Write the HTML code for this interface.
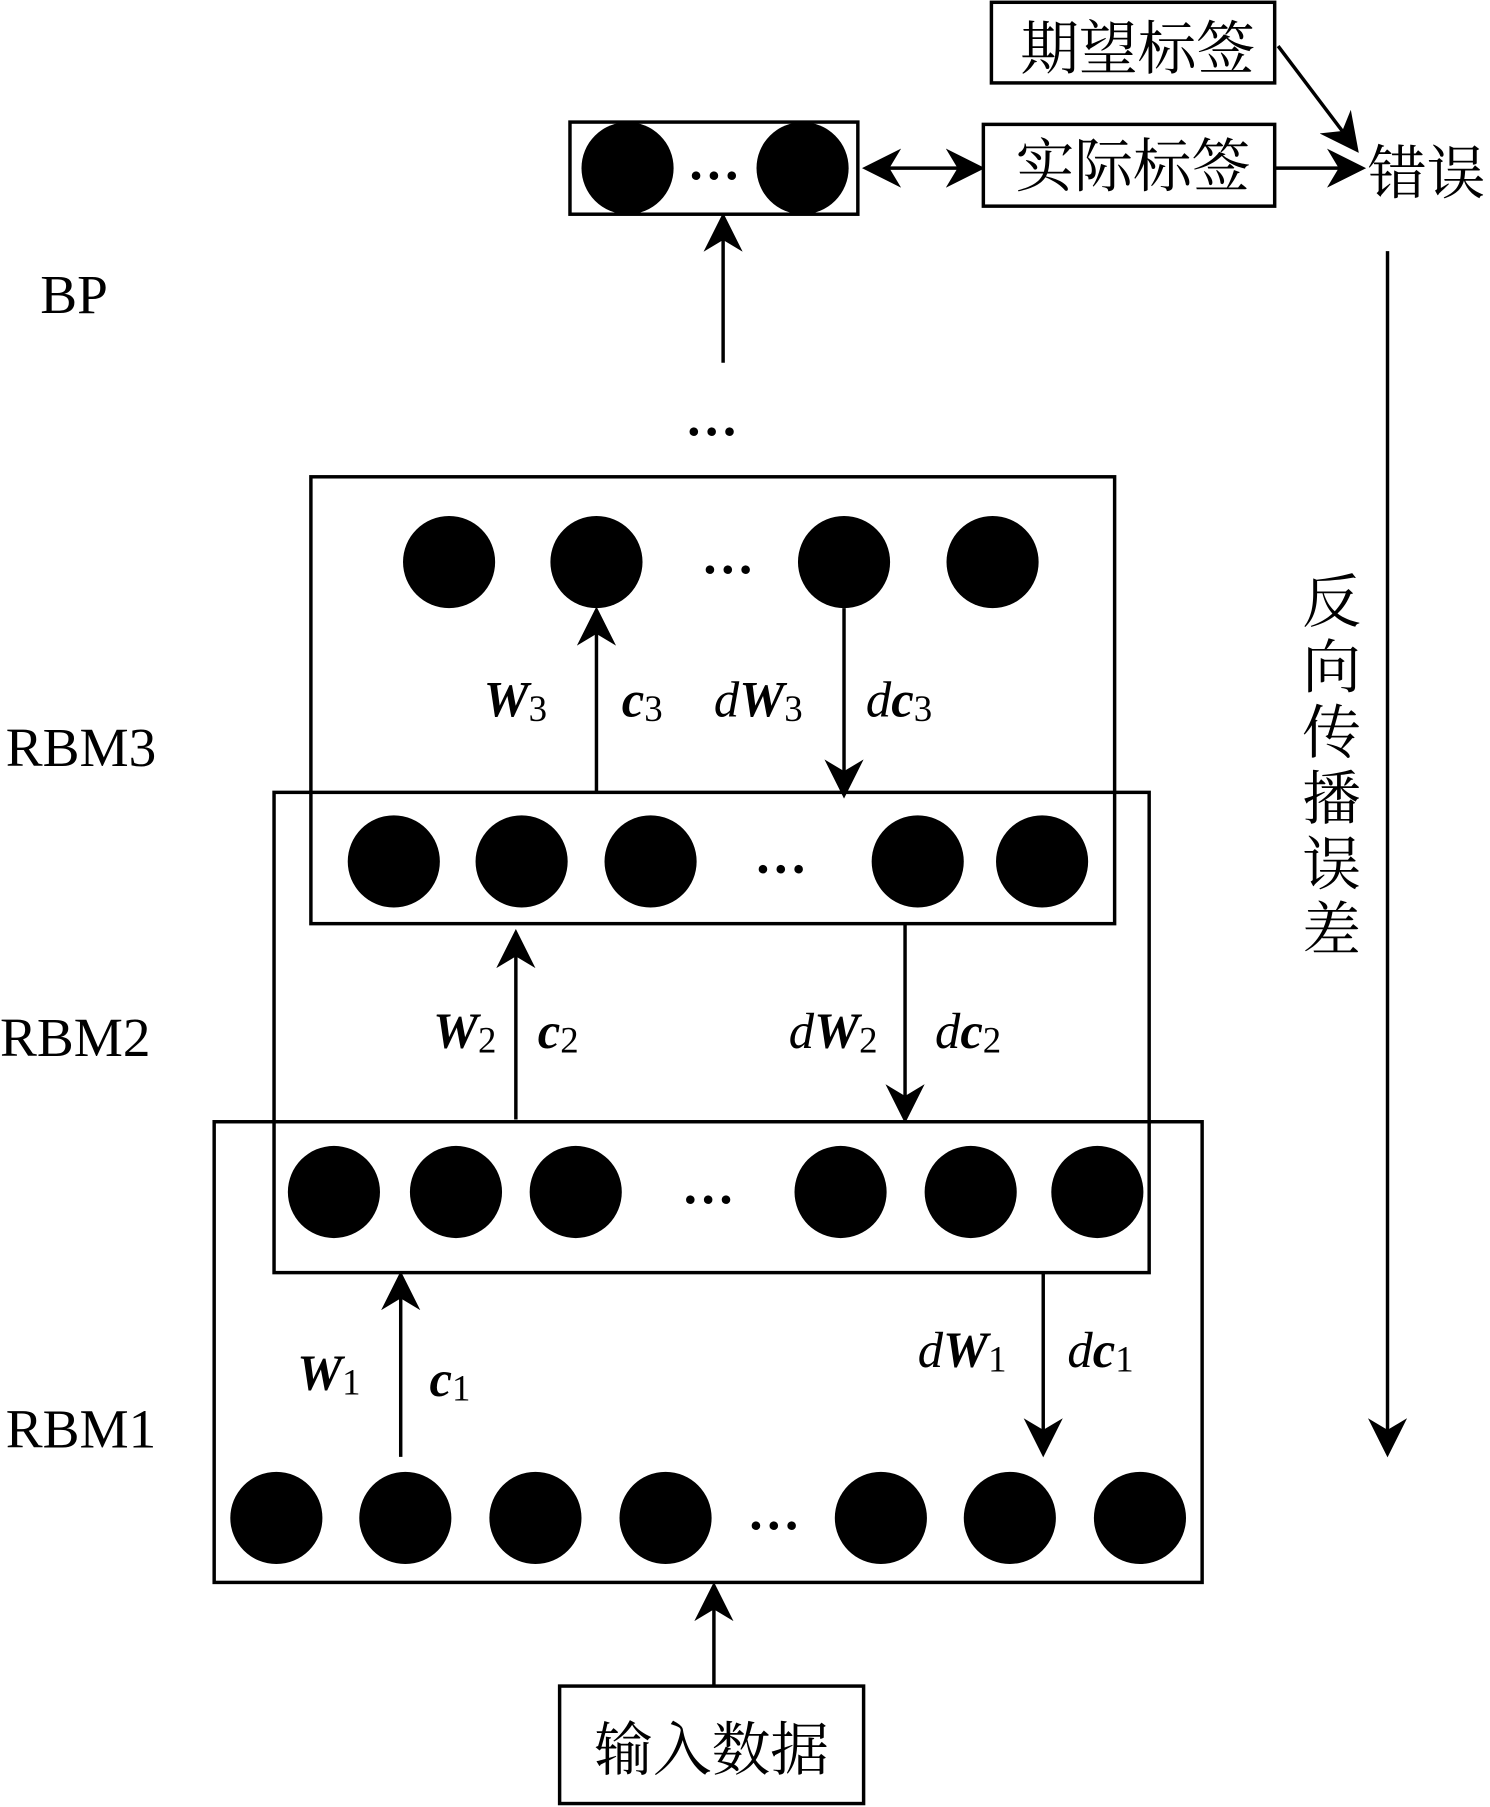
<!DOCTYPE html>
<html><head><meta charset="utf-8"><style>html,body{margin:0;padding:0;background:#fff}svg{display:block}
text{font-family:"Liberation Serif","Noto Serif CJK SC",serif}
.cn{font-family:"Liberation Serif","Noto Serif CJK SC","Noto Sans CJK SC",serif;font-size:51px}
.l{font-size:44px;font-style:italic}
.b{font-weight:bold}
.s{font-size:32px;font-style:normal;font-weight:normal}
</style></head><body>
<svg width="1490" height="1807" viewBox="0 0 1294 1569" preserveAspectRatio="none" xmlns="http://www.w3.org/2000/svg">
<defs>
<marker id="A" viewBox="0 0 10 10" markerWidth="34" markerHeight="34" refX="9" refY="5" orient="auto-start-reverse" markerUnits="userSpaceOnUse"><path d="M0,0 L10,5 L0,10 L3,5z" fill="#000"/></marker></defs>
<g fill="none" stroke="#000" stroke-width="3">
<rect x="861" y="2" width="246" height="70"/>
<rect x="854" y="108" width="253" height="71"/>
<rect x="495" y="106" width="250" height="80"/>
<rect x="270" y="414" width="698" height="388"/>
<rect x="238" y="688" width="760" height="417"/>
<rect x="186" y="974" width="858" height="400"/>
<rect x="486" y="1464" width="264" height="102"/>
</g>
<g stroke="#000" stroke-width="3" marker-end="url(#A)">
<line x1="752" y1="146" x2="852" y2="146" marker-start="url(#A)"/>
<line x1="1107" y1="146" x2="1183" y2="146"/>
<line x1="1110" y1="40" x2="1178" y2="130"/>
<line x1="628" y1="315" x2="628" y2="188"/>
<line x1="518" y1="688" x2="518" y2="530"/>
<line x1="733" y1="528" x2="733" y2="690"/>
<line x1="448" y1="972" x2="448" y2="810"/>
<line x1="786" y1="802" x2="786" y2="972"/>
<line x1="348" y1="1265" x2="348" y2="1107"/>
<line x1="906" y1="1105" x2="906" y2="1262"/>
<line x1="620" y1="1464" x2="620" y2="1377"/>
<line x1="1205" y1="218" x2="1205" y2="1262"/>
</g>
<g fill="#000">
<ellipse cx="545" cy="146" rx="40" ry="40"/><ellipse cx="697" cy="146" rx="40" ry="40"/>
<circle cx="390" cy="488" r="40"/><circle cx="518" cy="488" r="40"/><circle cx="733" cy="488" r="40"/><circle cx="862" cy="488" r="40"/>
<circle cx="342" cy="748" r="40"/><circle cx="453" cy="748" r="40"/><circle cx="565" cy="748" r="40"/><circle cx="797" cy="748" r="40"/><circle cx="905" cy="748" r="40"/>
<circle cx="290" cy="1035" r="40"/><circle cx="396" cy="1035" r="40"/><circle cx="500" cy="1035" r="40"/><circle cx="730" cy="1035" r="40"/><circle cx="843" cy="1035" r="40"/><circle cx="953" cy="1035" r="40"/>
<circle cx="240" cy="1318" r="40"/><circle cx="352" cy="1318" r="40"/><circle cx="465" cy="1318" r="40"/><circle cx="578" cy="1318" r="40"/><circle cx="765" cy="1318" r="40"/><circle cx="877" cy="1318" r="40"/><circle cx="990" cy="1318" r="40"/>
</g>
<g font-size="46" font-weight="bold" text-anchor="middle">
<text x="620" y="156">…</text><text x="618" y="378">…</text><text x="632" y="498">…</text><text x="678" y="758">…</text><text x="615" y="1045">…</text><text x="672" y="1328">…</text>
</g>
<g class="cn">
<text x="886" y="60">期望标签</text>
<text x="882" y="162">实际标签</text>
<text x="1188" y="168">错误</text>
<text x="516" y="1537">输入数据</text>
<text x="1131" y="540">反</text><text x="1131" y="597">向</text><text x="1131" y="654">传</text><text x="1131" y="711">播</text><text x="1131" y="768">误</text><text x="1131" y="825">差</text>
</g>
<g font-size="48">
<text x="35" y="272">BP</text>
<text x="5" y="665">RBM3</text>
<text x="0" y="917">RBM2</text>
<text x="5" y="1257">RBM1</text>
</g>
<g class="l">
<text x="420" y="622" class="b">W<tspan class="s" dy="4">3</tspan></text>
<text x="540" y="622" class="b">c<tspan class="s" dy="4">3</tspan></text>
<text x="620" y="622">d<tspan class="b">W</tspan><tspan class="s" dy="4">3</tspan></text>
<text x="752" y="622">d<tspan class="b">c</tspan><tspan class="s" dy="4">3</tspan></text>
<text x="376" y="910" class="b">W<tspan class="s" dy="4">2</tspan></text>
<text x="467" y="910" class="b">c<tspan class="s" dy="4">2</tspan></text>
<text x="685" y="910">d<tspan class="b">W</tspan><tspan class="s" dy="4">2</tspan></text>
<text x="812" y="910">d<tspan class="b">c</tspan><tspan class="s" dy="4">2</tspan></text>
<text x="258" y="1207" class="b">W<tspan class="s" dy="4">1</tspan></text>
<text x="373" y="1212" class="b">c<tspan class="s" dy="4">1</tspan></text>
<text x="797" y="1187">d<tspan class="b">W</tspan><tspan class="s" dy="4">1</tspan></text>
<text x="927" y="1187">d<tspan class="b">c</tspan><tspan class="s" dy="4">1</tspan></text>
</g>
</svg>
</body></html>
